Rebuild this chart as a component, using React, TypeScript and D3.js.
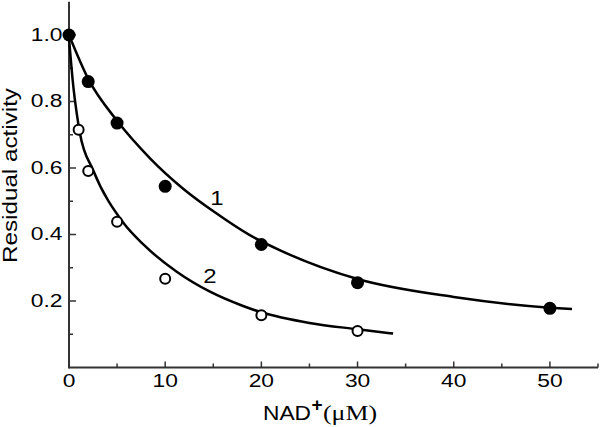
import React, { useEffect, useRef } from "react";
import * as d3 from "d3";

// measured points (NAD+ uM, residual activity)
const nad1 = [0, 2, 5, 10, 20, 30, 50];
const act1 = [1.0, 0.86, 0.735, 0.545, 0.37, 0.255, 0.178];
const nad2 = [1, 2, 5, 10, 20, 30];
const act2 = [0.715, 0.591, 0.438, 0.267, 0.157, 0.11];

// fitted curves
const fitX1 = [0, 2, 5, 8.4, 11.9, 15.35, 18.8, 21.9, 30, 40, 50, 52.3];
const fitY1 = [1.0, 0.868, 0.742, 0.63, 0.537, 0.463, 0.398, 0.353, 0.266, 0.212, 0.18, 0.176];
const fitX2 = [0, 0.45, 0.8, 1.14, 2.5, 5.65, 7.73, 11.2, 14.66, 18.1, 20, 25, 30, 33.7];
const fitY2 = [0.99, 0.845, 0.765, 0.704, 0.594, 0.435, 0.37, 0.288, 0.228, 0.185, 0.166, 0.134, 0.115, 0.102];

const xTicks = [0, 10, 20, 30, 40, 50];
const xMinor = [5, 15, 25, 35, 45, 55];
const yTicks = [0.2, 0.4, 0.6, 0.8, 1.0];
const yMinor = [0.1, 0.3, 0.5, 0.7, 0.9];

const App = () => {
  const ref = useRef<SVGSVGElement>(null);

  useEffect(() => {
    const svg = d3.select(ref.current);
    svg.selectAll("*").remove();

    const x = d3.scaleLinear().domain([0, 55]).range([69, 598]);
    const y = d3.scaleLinear().domain([0, 1.1]).range([367.5, 1.75]);
    const font = "Liberation Sans, Arial, sans-serif";
    const serif = "Liberation Serif, Times New Roman, serif";
    const axisColor = "#333";
    const stretch = 1.2; // the original lettering is a bit wider than Arial

    // axes
    svg.append("line")
      .attr("x1", x(0)).attr("x2", x(55))
      .attr("y1", y(0)).attr("y2", y(0))
      .attr("stroke", axisColor).attr("stroke-width", 2);
    svg.append("line")
      .attr("x1", x(0)).attr("x2", x(0))
      .attr("y1", y(0) + 1).attr("y2", y(1.1))
      .attr("stroke", axisColor).attr("stroke-width", 2);

    svg.selectAll(".xt").data(xTicks).join("line")
      .attr("x1", d => x(d)).attr("x2", d => x(d))
      .attr("y1", y(0)).attr("y2", y(0) - 6)
      .attr("stroke", axisColor).attr("stroke-width", 1.5);
    svg.selectAll(".xm").data(xMinor).join("line")
      .attr("x1", d => x(d)).attr("x2", d => x(d))
      .attr("y1", y(0)).attr("y2", y(0) - 4)
      .attr("stroke", axisColor).attr("stroke-width", 1.5);
    svg.selectAll(".yt").data(yTicks).join("line")
      .attr("x1", x(0)).attr("x2", x(0) + 7)
      .attr("y1", d => y(d)).attr("y2", d => y(d))
      .attr("stroke", axisColor).attr("stroke-width", 1.5);
    svg.selectAll(".ym").data(yMinor).join("line")
      .attr("x1", x(0)).attr("x2", x(0) + 4)
      .attr("y1", d => y(d)).attr("y2", d => y(d))
      .attr("stroke", axisColor).attr("stroke-width", 1.5);

    svg.selectAll(".xl").data(xTicks).join("text")
      .attr("transform", d => `translate(${x(d)},387) scale(${stretch},1)`)
      .attr("text-anchor", "middle")
      .attr("font-family", font).attr("font-size", 19)
      .text(d => d);
    svg.selectAll(".yl").data(yTicks).join("text")
      .attr("transform", d => `translate(62.5,${y(d) + 5.5}) scale(${stretch},1)`)
      .attr("text-anchor", "end")
      .attr("font-family", font).attr("font-size", 19)
      .text(d => d.toFixed(1));

    // axis titles
    svg.append("text")
      .attr("x", 263).attr("y", 419.5)
      .attr("font-family", font).attr("font-size", 21)
      .attr("textLength", 48).attr("lengthAdjust", "spacingAndGlyphs")
      .text("NAD");
    svg.append("text")
      .attr("x", 317).attr("y", 411)
      .attr("text-anchor", "middle")
      .attr("font-family", font).attr("font-weight", "bold").attr("font-size", 19)
      .text("+");
    svg.append("text")
      .attr("x", 323).attr("y", 419.5)
      .attr("font-family", serif).attr("font-size", 22)
      .attr("textLength", 54).attr("lengthAdjust", "spacingAndGlyphs")
      .text("(\u03bcM)");

    svg.append("text")
      .attr("transform", "translate(17,175.5) rotate(-90)")
      .attr("text-anchor", "middle")
      .attr("font-family", font).attr("font-size", 20)
      .attr("textLength", 175).attr("lengthAdjust", "spacingAndGlyphs")
      .text("Residual activity");

    // fitted curves
    const line = d3.line<number[]>()
      .x(d => x(d[0])).y(d => y(d[1]))
      .curve(d3.curveMonotoneX);
    const fit1 = fitX1.map((v, i) => [v, fitY1[i]]);
    const fit2 = fitX2.map((v, i) => [v, fitY2[i]]);
    svg.append("path").attr("d", line(fit1))
      .attr("fill", "none").attr("stroke", "#000").attr("stroke-width", 2.5);
    svg.append("path").attr("d", line(fit2))
      .attr("fill", "none").attr("stroke", "#000").attr("stroke-width", 2.5);

    // points
    svg.selectAll(".p1").data(nad1).join("circle")
      .attr("cx", d => x(d)).attr("cy", (d, i) => y(act1[i]))
      .attr("r", 6.5).attr("fill", "#000");
    svg.selectAll(".p2").data(nad2).join("circle")
      .attr("cx", d => x(d)).attr("cy", (d, i) => y(act2[i]))
      .attr("r", 5).attr("fill", "#fff")
      .attr("stroke", "#000").attr("stroke-width", 2);

    // curve labels
    svg.append("text")
      .attr("transform", `translate(217,205) scale(${stretch},1)`)
      .attr("text-anchor", "middle")
      .attr("font-family", font).attr("font-size", 20).text("1");
    svg.append("text")
      .attr("transform", `translate(210,283) scale(${stretch},1)`)
      .attr("text-anchor", "middle")
      .attr("font-family", font).attr("font-size", 20).text("2");
  }, []);

  return (
    <div style={{ position: "absolute", left: 0, top: 0 }}>
      <svg ref={ref} width={600} height={427} style={{ display: "block", background: "#fff" }} />
    </div>
  );
};

export default App;
